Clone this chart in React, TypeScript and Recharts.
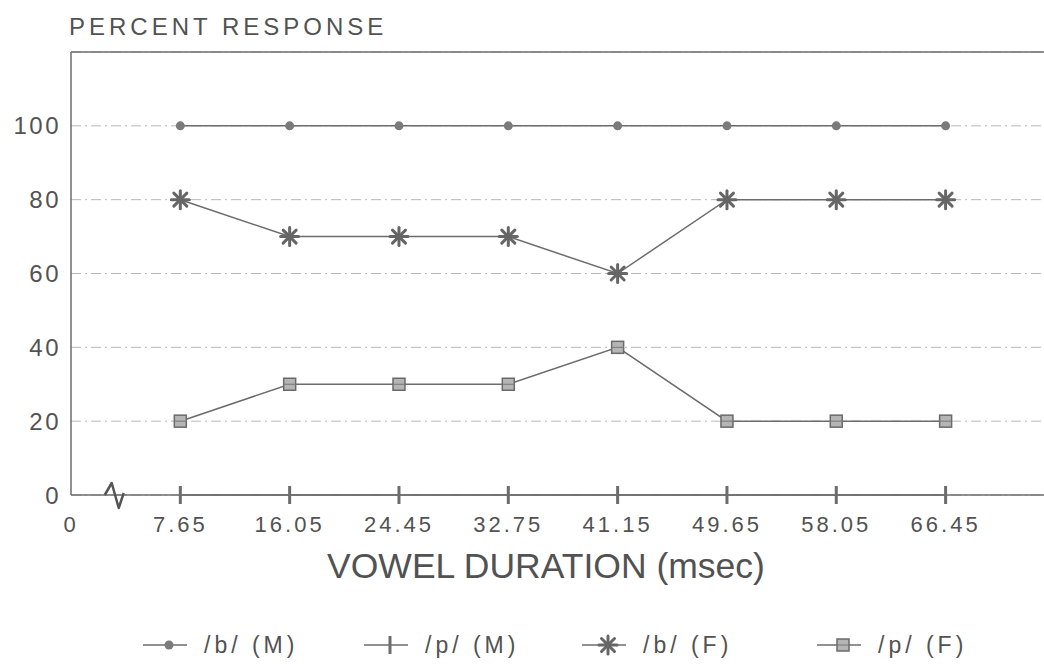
import {
  LineChart,
  Line,
  XAxis,
  YAxis,
  CartesianGrid,
  ReferenceLine,
  ReferenceDot,
} from "recharts";

const durations = ["7.65", "16.05", "24.45", "32.75", "41.15", "49.65", "58.05", "66.45"];
const bMale = [100, 100, 100, 100, 100, 100, 100, 100];
const pMale = [0, 0, 0, 0, 0, 0, 0, 0];
const bFemale = [80, 70, 70, 70, 60, 80, 80, 80];
const pFemale = [20, 30, 30, 30, 40, 20, 20, 20];
const yTicks = [0, 20, 40, 60, 80, 100];
const legendNames = ["/b/ (M)", "/p/ (M)", "/b/ (F)", "/p/ (F)"];

const data = durations.map((d, i) => ({
  pos: i + 1,
  duration: d,
  bM: bMale[i],
  pM: pMale[i],
  bF: bFemale[i],
  pF: pFemale[i],
}));
const xTicks = [0, ...durations.map((_, i) => i + 1)];

const FONT = "'Liberation Sans', Arial, sans-serif";
const INK = "#525252";
const LINE = "#6c6c6c";

// marker shapes, drawn around (0,0)
const circleMark = () => <circle r={4.5} fill="#7a7a7a" />;
const barMark = () => <line x1={0} y1={-9} x2={0} y2={9} stroke={LINE} strokeWidth={3} />;
const starMark = () => (
  <g stroke="#666" strokeWidth={3} strokeLinecap="round">
    <line x1={-9} y1={0} x2={9} y2={0} />
    <line x1={0} y1={-9} x2={0} y2={9} />
    <line x1={-6.5} y1={-6.5} x2={6.5} y2={6.5} />
    <line x1={-6.5} y1={6.5} x2={6.5} y2={-6.5} />
  </g>
);
const squareMark = () => (
  <g>
    <rect x={-6} y={-6} width={12} height={12} fill="#b5b5b5" stroke="#6a6a6a" strokeWidth={1.5} />
    <line x1={-6} y1={0} x2={6} y2={0} stroke="#777" strokeWidth={1} />
  </g>
);
const marks = [circleMark, barMark, starMark, squareMark];
const legendLeft = [143, 364, 582, 817];

const dotAt = (mark: () => JSX.Element) => (props: any) => (
  <g key={`${props.dataKey}-${props.index}`} transform={`translate(${props.cx},${props.cy})`}>
    {mark()}
  </g>
);

function Legend() {
  return (
    <div style={{ position: "absolute", left: 0, top: 630, width: 1044, height: 30 }}>
      {legendNames.map((name, i) => {
        const Mark = marks[i];
        return (
          <div
            key={name}
            style={{
              position: "absolute",
              left: legendLeft[i],
              top: 0,
              height: 30,
              display: "flex",
              alignItems: "center",
              fontFamily: FONT,
              fontSize: 23,
              letterSpacing: 4,
              color: INK,
              whiteSpace: "nowrap",
            }}
          >
            <svg width={44} height={30}>
              <line x1={0} y1={15} x2={44} y2={15} stroke={LINE} strokeWidth={1.5} />
              <g transform="translate(26,15)">
                <Mark />
              </g>
            </svg>
            <span style={{ marginLeft: 17 }}>{name}</span>
          </div>
        );
      })}
    </div>
  );
}

export default function App() {
  return (
    <div style={{ position: "absolute", left: 0, top: 0, width: 1044, height: 665, background: "#fff" }}>
      <LineChart
        width={1044}
        height={665}
        data={data}
        margin={{ top: 52, right: 0, bottom: 70, left: 0 }}
      >
        <CartesianGrid vertical={false} stroke="#b8b8b8" strokeDasharray="10 4 2 4" />
        <ReferenceLine y={120} stroke={LINE} strokeWidth={1.5} />
        <XAxis
          type="number"
          dataKey="pos"
          domain={[0, 8.9]}
          ticks={xTicks}
          tickFormatter={(v: number) => (v === 0 ? "0" : durations[v - 1])}
          axisLine={{ stroke: LINE, strokeWidth: 1.5 }}
          tickLine={false}
          tickSize={0}
          tickMargin={21}
          height={100}
          tick={{ fill: INK, fontSize: 22, fontFamily: FONT, letterSpacing: 3 }}
          label={() => (
            <text x={546} y={578} textAnchor="middle" fill={INK} fontSize={35.5} fontFamily={FONT}>
              VOWEL DURATION (msec)
            </text>
          )}
        />
        <YAxis
          domain={[0, 120]}
          ticks={yTicks}
          width={71}
          axisLine={{ stroke: LINE, strokeWidth: 1.5 }}
          tickLine={false}
          tickSize={0}
          tickMargin={10}
          tick={{ fill: INK, fontSize: 24, fontFamily: FONT, letterSpacing: 2.5 }}
          label={() => (
            <text x={69} y={35} fill={INK} fontSize={24} fontFamily={FONT} letterSpacing={4}>
              PERCENT RESPONSE
            </text>
          )}
        />
        {/* break mark on the duration axis */}
        <ReferenceDot
          x={0.4}
          y={0}
          ifOverflow="visible"
          shape={(p: any) => (
            <path
              d={`M${p.cx - 10},${p.cy} L${p.cx - 3},${p.cy - 12} L${p.cx + 4},${p.cy + 13} L${p.cx + 9},${p.cy - 2}`}
              fill="none"
              stroke="#555"
              strokeWidth={2.5}
              strokeLinejoin="round"
            />
          )}
        />
        <Line dataKey="bM" stroke={LINE} strokeWidth={1.5} dot={dotAt(circleMark)} isAnimationActive={false} />
        <Line dataKey="pM" stroke={LINE} strokeWidth={1.5} dot={dotAt(barMark)} isAnimationActive={false} />
        <Line dataKey="bF" stroke={LINE} strokeWidth={1.5} dot={dotAt(starMark)} isAnimationActive={false} />
        <Line dataKey="pF" stroke={LINE} strokeWidth={1.5} dot={dotAt(squareMark)} isAnimationActive={false} />
      </LineChart>
      <Legend />
    </div>
  );
}
